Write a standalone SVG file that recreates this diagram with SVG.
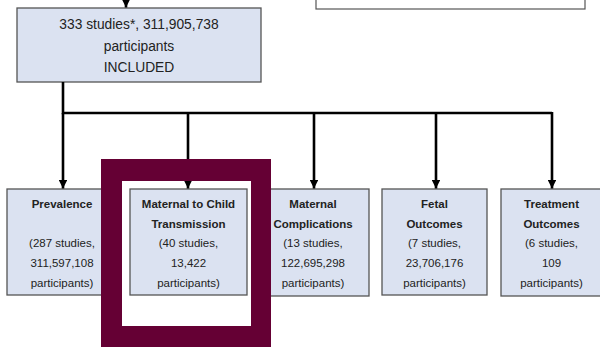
<svg xmlns="http://www.w3.org/2000/svg" width="600" height="347" viewBox="0 0 600 347">
<defs>
<style>
.box{fill:#dbe2f1;stroke:#555;stroke-width:1.3}
.t{font-family:"Liberation Sans",Arial,sans-serif;fill:#222;text-anchor:middle}
.top{font-size:13.8px}
.s{font-size:11.5px}
.b{font-weight:bold}
.c{stroke:#000;stroke-width:2.6;fill:none}
</style>
<marker id="ah" viewBox="0 0 10 10" refX="10" refY="5" markerWidth="3.4" markerHeight="3.4" orient="auto" markerUnits="strokeWidth">
<path d="M0,0 L10,5 L0,10 z" fill="#000"/>
</marker>
</defs>
<rect width="600" height="347" fill="#fff"/>
<g id="legend-box">
<rect x="316" y="-30" width="269" height="39" fill="#fff" stroke="#555" stroke-width="1.2"/>
</g>
<g id="included">
<rect class="box" x="17" y="8" width="244" height="74"/>
<text class="t top" x="139" y="29">333 studies*, 311,905,738</text>
<text class="t top" x="139" y="50.5">participants</text>
<text class="t top" x="139" y="72">INCLUDED</text>
</g>
<g id="prevalence">
<rect class="box" x="7" y="189" width="109" height="106"/>
<text class="t s b" x="62" y="208">Prevalence</text>
<text class="t s" x="62" y="247">(287 studies,</text>
<text class="t s" x="62" y="267">311,597,108</text>
<text class="t s" x="62" y="287">participants)</text>
</g>
<g id="mtct">
<rect class="box" x="130" y="189" width="117" height="106"/>
<text class="t s b" x="188.5" y="208">Maternal to Child</text>
<text class="t s b" x="188.5" y="227.5">Transmission</text>
<text class="t s" x="188.5" y="247">(40 studies,</text>
<text class="t s" x="188.5" y="267">13,422</text>
<text class="t s" x="188.5" y="287">participants)</text>
</g>
<g id="maternal-complications">
<rect class="box" x="259" y="189" width="110" height="107"/>
<text class="t s b" x="313" y="208">Maternal</text>
<text class="t s b" x="313" y="227.5">Complications</text>
<text class="t s" x="313" y="247">(13 studies,</text>
<text class="t s" x="313" y="267">122,695,298</text>
<text class="t s" x="313" y="287">participants)</text>
</g>
<g id="fetal">
<rect class="box" x="382" y="189" width="105" height="106"/>
<text class="t s b" x="434.5" y="208">Fetal</text>
<text class="t s b" x="434.5" y="227.5">Outcomes</text>
<text class="t s" x="434.5" y="247">(7 studies,</text>
<text class="t s" x="434.5" y="267">23,706,176</text>
<text class="t s" x="434.5" y="287">participants)</text>
</g>
<g id="treatment">
<rect class="box" x="501" y="189" width="102" height="107"/>
<text class="t s b" x="551.5" y="208">Treatment</text>
<text class="t s b" x="551.5" y="227.5">Outcomes</text>
<text class="t s" x="551.5" y="247">(6 studies,</text>
<text class="t s" x="551.5" y="267">109</text>
<text class="t s" x="551.5" y="287">participants)</text>
</g>
<g id="connectors">
<line class="c" x1="126" y1="-10" x2="126" y2="7.5" marker-end="url(#ah)"/>
<polyline class="c" points="63,82 63,113 552,113"/>
<line class="c" x1="63" y1="113" x2="63" y2="188.5" marker-end="url(#ah)"/>
<line class="c" x1="188" y1="113" x2="188" y2="188.5" marker-end="url(#ah)"/>
<line class="c" x1="314" y1="113" x2="314" y2="188.5" marker-end="url(#ah)"/>
<line class="c" x1="436" y1="113" x2="436" y2="188.5" marker-end="url(#ah)"/>
<line class="c" x1="552" y1="112" x2="552" y2="188.5" marker-end="url(#ah)"/>
</g>
<g id="highlight-frame">
<path d="M101,159 H271 V350 H101 Z M122,181 V326 H251 V181 Z" fill="#650034" fill-rule="evenodd"/>
</g>
</svg>
